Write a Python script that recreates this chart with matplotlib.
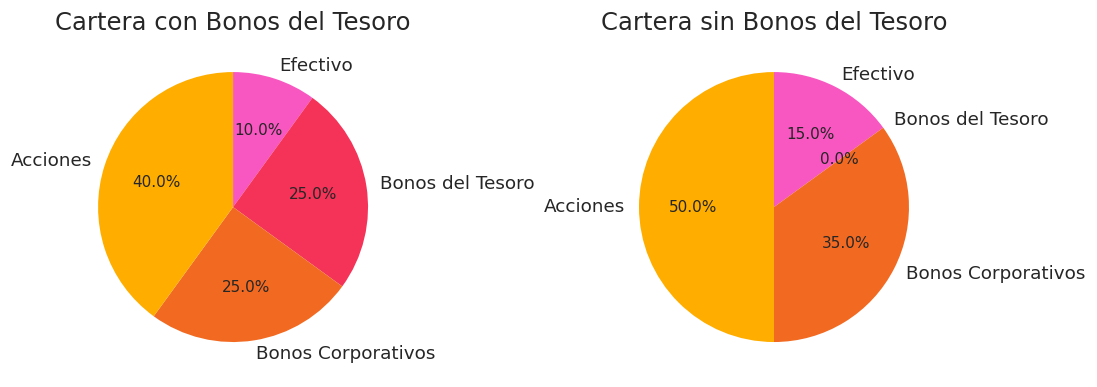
import matplotlib
matplotlib.use("Agg")
import matplotlib.pyplot as plt

# Data
categories = ['Efectivo', 'Bonos del Tesoro', 'Bonos Corporativos', 'Acciones']
con_tesoro = [10, 25, 25, 40]
sin_tesoro = [15, 0, 35, 50]

colors = ['#F857C1', '#F53257', '#F26A21', '#FFAE00']
TEXT = '#262626'

fig = plt.figure(figsize=(10.97, 3.87), dpi=100)
ax1 = fig.add_axes([0.0586, 0.029, 0.3077, 0.872])
ax2 = fig.add_axes([0.5517, 0.029, 0.3077, 0.872])

for ax, vals, title in [(ax1, con_tesoro, 'Cartera con Bonos del Tesoro'),
                        (ax2, sin_tesoro, 'Cartera sin Bonos del Tesoro')]:
    wedges, texts, autotexts = ax.pie(vals, labels=categories, colors=colors,
                                      autopct='%1.1f%%', startangle=90,
                                      counterclock=False,
                                      textprops={'color': TEXT})
    for t in texts:
        t.set_fontsize(13.2)
    for t in autotexts:
        t.set_fontsize(11)
    ax.set_title(title, fontsize=17.5, color=TEXT)
    ax.set_aspect('equal')

fig.savefig('out.png', dpi=100)
